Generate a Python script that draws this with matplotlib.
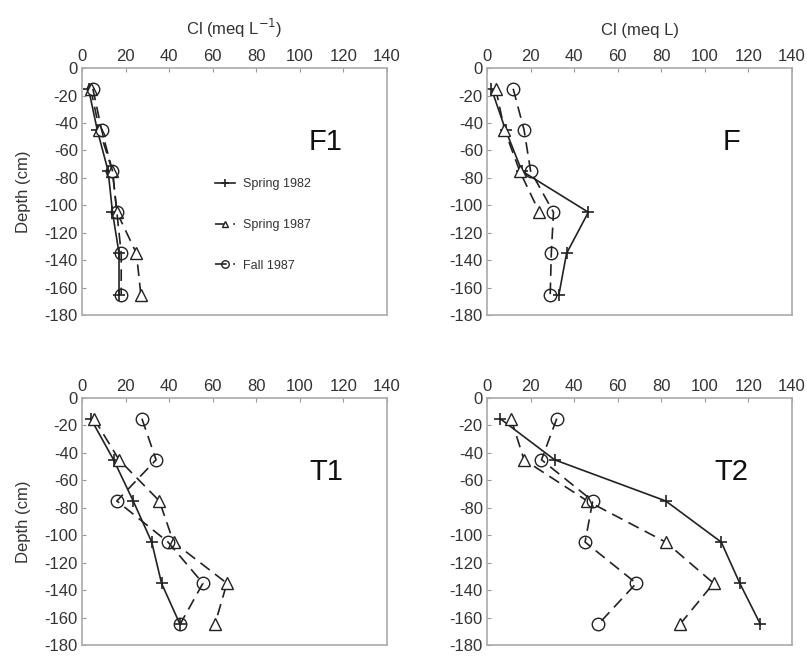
import matplotlib.pyplot as plt

plt.rcParams['font.family'] = ['Liberation Sans', 'DejaVu Sans']
plt.rcParams['axes.unicode_minus'] = False

depth = [-15, -45, -75, -105, -135, -165]
depth_f_s87 = [-15, -45, -75, -105]

# F1
f1_s82 = [3, 7, 12, 14, 17, 17]
f1_s87 = [4, 8, 14, 16, 25, 27]
f1_f87 = [5, 9, 14, 16, 18, 18]
# F
f_s82 = [2, 8.5, 16, 46.5, 36.5, 33]
f_s87 = [4, 8, 15, 24]
f_f87 = [12, 17, 20, 30.5, 29.5, 29]
# T1
t1_s82 = [4, 14.5, 23.5, 32, 36.5, 45]
t1_s87 = [5.5, 17, 35.5, 42, 66.5, 61]
t1_f87 = [27.5, 34, 16, 39.5, 55.5, 45]
# T2
t2_s82 = [6, 31, 82, 107.5, 116, 125.5]
t2_s87 = [11, 17, 46, 82, 104, 88.5]
t2_f87 = [32, 25, 48.5, 45, 68.5, 51]

labels = ['Spring 1982', 'Spring 1987', 'Fall 1987']
txt = '#333333'

fig = plt.figure(figsize=(8.07, 6.62), dpi=100)
w, h = 0.378, 0.373
pos = {
    'F1': [0.1016, 0.524, w, h],
    'F': [0.6035, 0.524, w, h],
    'T1': [0.1016, 0.0257, w, h],
    'T2': [0.6035, 0.0257, w, h],
}
panels = [
    ('F1', f1_s82, f1_s87, depth, f1_f87),
    ('F', f_s82, f_s87, depth_f_s87, f_f87),
    ('T1', t1_s82, t1_s87, depth, t1_f87),
    ('T2', t2_s82, t2_s87, depth, t2_f87),
]

for name, s82, s87, d87, f87 in panels:
    ax = fig.add_axes(pos[name])
    ax.plot(s82, depth, color='#222222', lw=1.2, marker='+', ms=9, mew=1.2,
            label=labels[0])
    ax.plot(s87, d87, color='#222222', lw=1.2, ls=(0, (7, 4)), marker='^',
            ms=8, mfc='white', mew=1.0, label=labels[1])
    ax.plot(f87, depth, color='#222222', lw=1.2, ls=(0, (7, 4)), marker='o',
            ms=9, mfc='none', mew=1.0, label=labels[2])
    ax.set_xlim(0, 140)
    ax.set_ylim(-180, 0)
    ax.set_xticks(range(0, 141, 20))
    ax.set_yticks(range(-180, 1, 20))
    ax.xaxis.tick_top()
    ax.tick_params(axis='both', direction='in', length=3, color='#999999',
                   labelsize=12, labelcolor=txt, pad=3)
    for sp in ax.spines.values():
        sp.set_color('#aaaaaa')
        sp.set_linewidth(1.2)
    ax.text(0.80, 0.70, name, transform=ax.transAxes, fontsize=21,
            ha='center', va='center', color='#111111')
    if name in ('F1', 'T1'):
        ax.set_ylabel('Depth (cm)', fontsize=12, color=txt, labelpad=10)
    if name == 'F1':
        ax.xaxis.set_label_position('top')
        ax.set_xlabel('Cl (meq L$^{-1}$)', fontsize=12, color=txt, labelpad=10)
        ax.legend(loc='upper left', bbox_to_anchor=(0.40, 0.60), frameon=False,
                  fontsize=9, handlelength=1.6, labelspacing=2.3,
                  handletextpad=0.6, markerscale=0.6, labelcolor=txt)
    if name == 'F':
        ax.xaxis.set_label_position('top')
        ax.set_xlabel('Cl (meq L)', fontsize=12, color=txt, labelpad=10)

fig.savefig('out.png', dpi=100)
